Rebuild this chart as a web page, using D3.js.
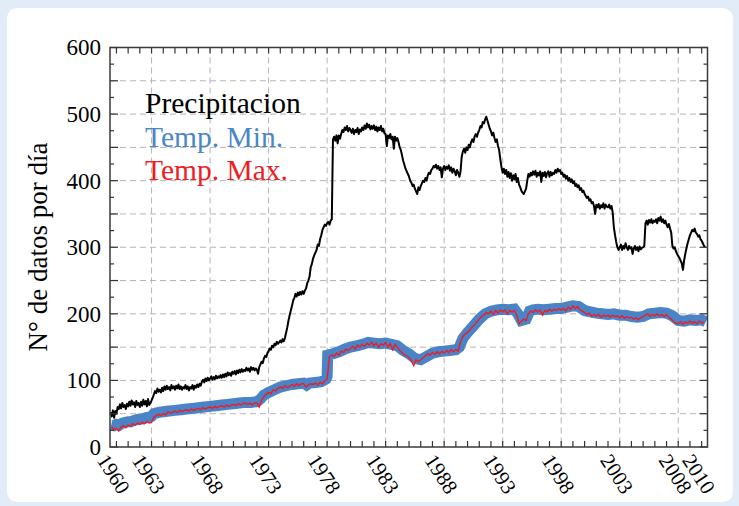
<!DOCTYPE html>
<html><head><meta charset="utf-8">
<script src="https://cdn.jsdelivr.net/npm/d3@7"></script>
<style>
html,body{margin:0;padding:0;background:#e2ecf8;}
svg{display:block;}
svg text{font-family:"Liberation Serif","Times New Roman",serif;}
</style></head>
<body>
<svg id="chart" width="739" height="506"></svg>
<script>
// ---- data ----
// Precipitacion: one value every 0.1 year, starting 1959.5
const precipStart = 1959.5, precipStep = 0.1;
const precipValues = [
52,46,55,44,54,
50,60,57,64,58,66,60,63,57,65,
61,68,62,70,64,67,60,69,63,66,
60,68,62,71,64,69,61,72,63,66,
70,74,79,84,81,88,83,86,82,89,
84,91,86,92,87,90,85,93,88,91,
86,92,88,94,87,91,86,90,88,93,
87,91,85,90,88,93,86,92,89,94,
90,95,92,98,101,97,103,99,104,100,
103,106,101,105,102,107,103,106,104,108,
104,109,105,110,106,112,108,111,107,113,
110,114,109,115,111,116,112,117,113,116,
114,119,115,118,113,120,116,119,115,118,
116,110,120,124,128,126,133,137,135,141,
144,148,146,152,150,155,153,158,155,157,
160,157,162,159,164,172,180,190,198,205,
212,220,224,230,226,232,228,233,229,234,
230,235,238,246,250,256,270,275,283,288,
292,296,304,302,312,318,326,330,334,332,
336,338,334,340,342,462,466,460,468,456,
468,463,470,476,473,480,476,482,474,479,
476,472,478,470,476,473,479,470,477,474,
480,476,483,478,486,480,484,477,482,478,
483,476,481,474,480,476,482,474,478,471,
470,452,468,464,470,462,466,448,466,460,
464,458,450,446,438,430,424,418,414,410,
406,400,397,392,394,388,384,380,390,386,
392,396,400,398,404,400,408,412,410,416,
418,422,420,424,418,422,416,420,405,418,
422,416,421,418,423,415,420,412,418,414,
408,416,412,406,414,436,444,448,442,450,
446,454,450,458,462,458,466,470,466,472,
476,482,480,488,486,492,496,490,484,478,
474,468,472,464,458,462,452,446,432,420,
412,418,410,416,406,413,404,411,400,408,
402,410,398,404,394,390,385,382,380,384,
388,400,410,406,412,408,414,409,415,406,
412,408,414,398,412,407,413,405,411,414,
406,413,408,412,410,416,412,418,414,416,
410,412,406,409,403,407,400,404,398,402,
396,399,392,395,390,393,386,389,383,385,
380,377,374,376,370,372,366,368,362,350,
364,360,365,358,363,360,366,358,364,361,
360,364,358,362,352,330,318,308,300,296,
300,304,296,302,298,306,300,296,302,298,
300,290,298,302,296,300,294,301,297,299,
300,302,336,340,334,341,337,342,336,340,
338,342,336,344,340,346,338,342,336,340,
334,330,335,328,322,302,298,300,294,290,
287,284,280,276,266,280,290,298,306,312,
318,322,326,324,328,322,320,316,318,312,
310,306,302,300
];

// Temp. Min.: (year, value)
const tempMin = [
[1959.55,33],[1959.8,32],[1960.0,34],[1960.25,33],[1960.5,36],[1960.75,37],[1961.0,38],[1961.25,38],
[1961.5,40],[1961.75,41],[1962.0,42],[1962.25,42],[1962.5,44],[1962.75,45],[1963.0,46],[1963.2,50],
[1963.6,52],[1964.0,53],[1964.5,54],[1965.0,55],[1965.5,56],[1966.0,57],[1966.5,58],
[1967.0,59],[1967.5,60],[1968.0,61],[1968.5,62],[1969.0,63],[1969.5,64],[1970.0,65],[1970.5,66],
[1971.0,67],[1971.5,67],[1972.0,68],[1972.3,72],[1972.6,78],[1973.0,82],[1973.5,86],[1974.0,90],
[1974.5,92],[1975.0,94],[1975.5,95],[1976.0,96],[1976.25,93],[1976.5,96],[1977.0,97],[1977.5,98],[1977.9,102],
[1978.0,106],[1978.05,138],[1978.5,140],[1979.0,143],[1979.5,147],[1980.0,150],[1980.5,152],[1981.0,154],
[1981.5,157],[1982.0,156],[1982.5,155],[1983.0,156],[1983.5,154],[1984.0,152],[1984.5,145],[1985.0,140],
[1985.5,133],[1986.0,131],[1986.5,136],[1987.0,141],[1987.5,143],[1988.0,144],[1988.5,145],[1989.0,146],
[1989.3,150],[1989.6,163],[1990.0,172],[1990.5,182],[1991.0,192],[1991.5,200],[1992.0,204],[1992.5,206],
[1993.0,207],[1993.5,206],[1994.0,207],[1994.3,200],[1994.6,190],[1995.0,192],[1995.3,204],[1995.6,206],
[1996.0,207],[1996.5,206],[1997.0,207],[1997.5,208],[1998.0,208],[1998.5,210],[1999.0,212],[1999.5,211],
[2000.0,205],[2000.5,203],[2001.0,201],[2001.5,200],[2002.0,199],[2002.5,200],[2003.0,198],[2003.5,198],
[2004.0,196],[2004.5,195],[2005.0,196],[2005.5,200],[2006.0,201],[2006.5,202],[2007.0,201],[2007.5,197],
[2008.0,190],[2008.5,189],[2009.0,191],[2009.5,190],[2010.0,191],[2010.35,188]
];

// Temp. Max.: one value every 0.2 year, starting 1959.6
const tmaxStart = 1959.6, tmaxStep = 0.2;
const tmaxValues = [
30,26,
28,24,30,32,29,
33,31,35,33,36,
34,37,35,38,36,
37,45,47,49,47,
50,48,53,51,52,
54,52,55,53,55,
56,54,57,55,57,
58,56,59,57,59,
60,58,61,59,61,
62,60,63,61,63,
64,62,65,63,65,
66,64,66,63,66,
66,60,70,76,79,
82,80,86,84,88,
90,88,92,89,91,
94,91,95,92,95,
95,90,93,95,94,
96,93,97,95,99,
102,136,138,136,141,
138,144,142,147,145,
148,151,147,153,150,
154,151,156,153,157,
152,156,150,155,153,
157,150,155,146,154,
150,145,142,138,137,
134,130,122,131,128,
131,134,137,140,138,
142,139,143,140,144,
141,145,142,146,143,
147,144,158,166,170,
172,176,180,184,188,
192,196,198,202,200,
204,199,205,201,206,
203,206,200,205,203,
205,198,185,189,192,
190,200,204,202,206,
203,206,198,205,203,
207,204,207,205,208,
206,208,204,210,207,
212,208,211,206,204,
202,199,201,196,199,
197,199,195,198,196,
198,195,198,196,197,
194,197,193,196,194,
195,192,194,191,194,
196,198,200,196,199,
197,200,197,199,196,
199,195,192,188,186,
185,188,184,188,186,
189,186,188,185,189,
187,186
];

const xLabelYears = [1960,1963,1968,1973,1978,1983,1988,1993,1998,2003,2008,2010];
const xGridYears = [1963,1968,1973,1978,1983,1988,1993,1998,2003,2008];
const yLabelTicks = [0,100,200,300,400,500,600];
const legendLabels = ["Precipitacion","Temp. Min.","Temp. Max."];
const yTitle = "N° de datos por día";

const precipitacion = precipValues.map((v,i)=>[precipStart + i*precipStep, v]);
const tempMax = tmaxValues.map((v,i)=>[tmaxStart + i*tmaxStep, v]);

// ---- drawing ----
const svg = d3.select("#chart");
const FONT = "'Liberation Serif','Times New Roman',serif";
const L = 110, R = 707.5, T = 47.5, B = 447;

svg.append("rect").attr("x",7).attr("y",8).attr("width",726).attr("height",494)
  .attr("rx",10).attr("fill","#ffffff");

const x = d3.scaleLinear().domain([1959.45, 2010.5]).range([L, R]);
const y = d3.scaleLinear().domain([0, 600]).range([B, T]);

// grid
const grid = svg.append("g").attr("stroke","#b4b4b4").attr("stroke-width",1).attr("stroke-dasharray","6,4");
grid.selectAll("line.h").data(d3.range(50, 600, 50)).join("line")
  .attr("x1",L).attr("x2",R).attr("y1",d=>y(d)).attr("y2",d=>y(d));
grid.selectAll("line.v").data(xGridYears).join("line")
  .attr("x1",d=>x(d)).attr("x2",d=>x(d)).attr("y1",T).attr("y2",B);

// series
const line = d3.line().x(d=>x(d[0])).y(d=>y(d[1]));
svg.append("path").datum(precipitacion).attr("d",line)
  .attr("fill","none").attr("stroke","#000").attr("stroke-width",2).attr("stroke-linejoin","round");
svg.append("path").datum(tempMin).attr("d",line)
  .attr("fill","none").attr("stroke","#4a83c6").attr("stroke-width",11).attr("stroke-linejoin","miter");
svg.append("path").datum(tempMax).attr("d",line)
  .attr("fill","none").attr("stroke","#ee1d24").attr("stroke-width",1.4);

// axes (ticks inward)
const yMinor = d3.range(0, 601, 25);
function yTickLen(d){ return d % 50 === 0 ? 8 : 4; }

const gl = svg.append("g").attr("transform",`translate(${L},0)`)
  .call(d3.axisLeft(y).tickValues(yLabelTicks).tickSize(0).tickPadding(9).tickFormat(d3.format("d")));
gl.select(".domain").remove();
gl.attr("font-family",null).attr("font-size",null);
gl.selectAll("text").style("font-family",FONT).style("font-size","23px").attr("fill","#000");

const yTicksG = svg.append("g").attr("stroke","#333").attr("stroke-width",1.2);
yTicksG.selectAll("line.l").data(yMinor).join("line")
  .attr("x1",L).attr("x2",d=>L+yTickLen(d)).attr("y1",d=>y(d)).attr("y2",d=>y(d));
yTicksG.selectAll("line.r").data(yMinor).join("line")
  .attr("x1",R).attr("x2",d=>R-yTickLen(d)).attr("y1",d=>y(d)).attr("y2",d=>y(d));

const years = d3.range(1960, 2011, 1);
const xTicksG = svg.append("g").attr("stroke","#333").attr("stroke-width",1.2);
xTicksG.selectAll("line.b").data(years).join("line")
  .attr("x1",d=>x(d)).attr("x2",d=>x(d)).attr("y1",B).attr("y2",B-6);
xTicksG.selectAll("line.t").data(years).join("line")
  .attr("x1",d=>x(d)).attr("x2",d=>x(d)).attr("y1",T).attr("y2",T+6);

const gb = svg.append("g").attr("transform",`translate(0,${B})`)
  .call(d3.axisBottom(x).tickValues(xLabelYears).tickSize(0).tickFormat(d3.format("d")));
gb.select(".domain").remove();
gb.attr("font-family",null).attr("font-size",null);
gb.selectAll("text")
  .style("font-family",FONT).style("font-size","21px").attr("fill","#000")
  .attr("text-anchor","start").attr("dy",null).attr("y",null)
  .attr("transform","translate(-8,5) rotate(57)")
  .attr("dominant-baseline","hanging");

// frame
svg.append("rect").attr("x",L).attr("y",T).attr("width",R-L).attr("height",B-T)
  .attr("fill","none").attr("stroke","#3a3a3a").attr("stroke-width",1.5);

// y title
svg.append("text").attr("transform","translate(47,247) rotate(-90)")
  .attr("text-anchor","middle").style("font-family",FONT).style("font-size","27px").attr("fill","#000")
  .text(yTitle);

// legend
const legColors = ["#000000","#4a86c8","#ee1d24"];
svg.append("g").selectAll("text").data(legendLabels).join("text")
  .attr("x",145).attr("y",(d,i)=>113+i*33.5)
  .style("font-family",FONT).style("font-size","29.5px").attr("fill",(d,i)=>legColors[i])
  .text(d=>d);
</script>
</body></html>
